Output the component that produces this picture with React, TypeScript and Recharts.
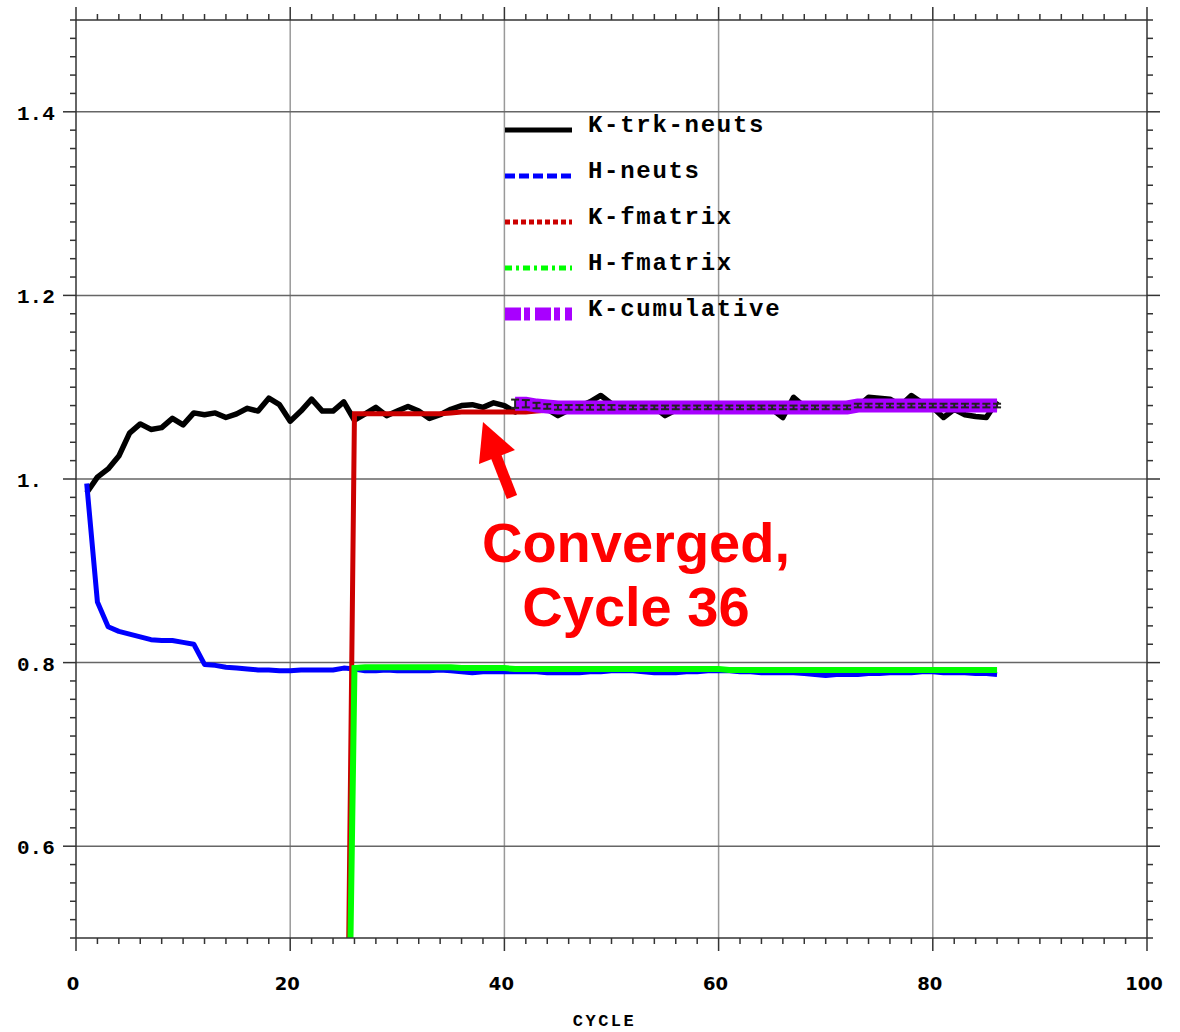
import React from 'react';
import {
    LineChart,
    Line,
    XAxis,
    YAxis,
    CartesianGrid,
    ReferenceDot,
    Legend,
    ErrorBar,
} from 'recharts';

// cycle numbers (x)
const cycles = [
    1, 2, 3, 4, 5, 6, 7, 8, 9, 10,
    11, 12, 13, 14, 15, 16, 17, 18, 19, 20,
    21, 22, 23, 24, 25, 26, 27, 28, 29, 30,
    31, 32, 33, 34, 35, 36, 37, 38, 39, 40,
    41, 42, 43, 44, 45, 46, 47, 48, 49, 50,
    51, 52, 53, 54, 55, 56, 57, 58, 59, 60,
    61, 62, 63, 64, 65, 66, 67, 68, 69, 70,
    71, 72, 73, 74, 75, 76, 77, 78, 79, 80,
    81, 82, 83, 84, 85, 86,
];

const kTrkNeuts = [
    0.985, 1.002, 1.011, 1.025, 1.050, 1.060, 1.054, 1.056, 1.066, 1.059,
    1.072, 1.070, 1.072, 1.067, 1.071, 1.077, 1.074, 1.088, 1.081, 1.063,
    1.074, 1.087, 1.074, 1.074, 1.084, 1.064, 1.071, 1.078, 1.069, 1.074,
    1.079, 1.074, 1.066, 1.070, 1.076, 1.080, 1.081, 1.078, 1.083, 1.080,
    1.073, 1.078, 1.080, 1.076, 1.069, 1.075, 1.079, 1.084, 1.091, 1.082,
    1.077, 1.079, 1.076, 1.078, 1.069, 1.075, 1.080, 1.077, 1.079, 1.076,
    1.079, 1.077, 1.080, 1.078, 1.076, 1.067, 1.089, 1.079, 1.076, 1.078,
    1.080, 1.077, 1.079, 1.089, 1.088, 1.087, 1.080, 1.091, 1.083, 1.078,
    1.067, 1.076, 1.070, 1.068, 1.067, 1.085,
];

const hNeuts = [
    0.995, 0.866, 0.839, 0.834, 0.831, 0.828, 0.825, 0.824, 0.824, 0.822,
    0.820, 0.798, 0.797, 0.795, 0.794, 0.793, 0.792, 0.792, 0.791, 0.791,
    0.792, 0.792, 0.792, 0.792, 0.794, 0.793, 0.791, 0.791, 0.792, 0.791,
    0.791, 0.791, 0.791, 0.792, 0.791, 0.790, 0.789, 0.790, 0.790, 0.790,
    0.790, 0.790, 0.790, 0.789, 0.789, 0.789, 0.789, 0.790, 0.790, 0.791,
    0.791, 0.791, 0.790, 0.789, 0.789, 0.789, 0.790, 0.790, 0.791, 0.791,
    0.791, 0.790, 0.790, 0.789, 0.789, 0.789, 0.789, 0.788, 0.787, 0.786,
    0.787, 0.787, 0.787, 0.788, 0.788, 0.789, 0.789, 0.789, 0.790, 0.790,
    0.789, 0.789, 0.789, 0.788, 0.788, 0.787,
];

// fission-matrix estimates start once the source has settled
const kFmatrix = [
    null, null, null, null, null, null, null, null, null, null,
    null, null, null, null, null, null, null, null, null, null,
    null, null, null, null, 0, 1.071, 1.071, 1.071, 1.071, 1.071,
    1.071, 1.071, 1.071, 1.071, 1.072, 1.073, 1.073, 1.073, 1.073, 1.073,
    1.073, 1.073, 1.074, 1.075, 1.076, 1.077, 1.077, 1.077, 1.077, 1.077,
    1.077, 1.077, 1.077, 1.077, 1.077, 1.077, 1.077, 1.077, 1.077, 1.077,
    1.077, 1.077, 1.077, 1.077, 1.077, 1.077, 1.077, 1.077, 1.077, 1.077,
    1.077, 1.077, 1.077, 1.077, 1.077, 1.077, 1.077, 1.077, 1.077, 1.077,
    1.077, 1.077, 1.077, 1.077, 1.077, 1.077,
];

const hFmatrix = [
    null, null, null, null, null, null, null, null, null, null,
    null, null, null, null, null, null, null, null, null, null,
    null, null, null, null, 0, 0.794, 0.795, 0.795, 0.795, 0.795,
    0.795, 0.795, 0.795, 0.795, 0.795, 0.794, 0.794, 0.794, 0.794, 0.794,
    0.793, 0.793, 0.793, 0.793, 0.793, 0.793, 0.793, 0.793, 0.793, 0.793,
    0.793, 0.793, 0.793, 0.793, 0.793, 0.793, 0.793, 0.793, 0.793, 0.793,
    0.792, 0.792, 0.792, 0.792, 0.792, 0.792, 0.792, 0.792, 0.792, 0.792,
    0.792, 0.792, 0.792, 0.792, 0.792, 0.792, 0.792, 0.792, 0.792, 0.792,
    0.792, 0.792, 0.792, 0.792, 0.792, 0.792,
];

const kCumulative = [
    null, null, null, null, null, null, null, null, null, null,
    null, null, null, null, null, null, null, null, null, null,
    null, null, null, null, null, null, null, null, null, null,
    null, null, null, null, null, null, null, null, null, null,
    1.082, 1.082, 1.080, 1.079, 1.078, 1.078, 1.078, 1.078, 1.078, 1.078,
    1.078, 1.078, 1.078, 1.078, 1.078, 1.078, 1.078, 1.078, 1.078, 1.078,
    1.078, 1.078, 1.078, 1.078, 1.078, 1.078, 1.078, 1.078, 1.078, 1.078,
    1.078, 1.078, 1.080, 1.080, 1.080, 1.080, 1.080, 1.080, 1.080, 1.080,
    1.080, 1.080, 1.080, 1.080, 1.080, 1.080,
];

const kCumulativeErr = [
    null, null, null, null, null, null, null, null, null, null,
    null, null, null, null, null, null, null, null, null, null,
    null, null, null, null, null, null, null, null, null, null,
    null, null, null, null, null, null, null, null, null, null,
    0.0045, 0.004, 0.003, 0.0025, 0.0025, 0.0025, 0.0025, 0.0025, 0.0025, 0.0025,
    0.002, 0.002, 0.002, 0.002, 0.002, 0.002, 0.002, 0.002, 0.002, 0.002,
    0.002, 0.002, 0.002, 0.002, 0.002, 0.002, 0.002, 0.002, 0.002, 0.002,
    0.002, 0.002, 0.002, 0.002, 0.002, 0.002, 0.002, 0.002, 0.002, 0.002,
    0.002, 0.002, 0.002, 0.002, 0.002, 0.002,
];

const xMajorTicks = [0, 20, 40, 60, 80, 100];
const xTickLabels = ['0', '20', '40', '60', '80', '100'];
const yMajorTicks = [0.6, 0.8, 1.0, 1.2, 1.4];
const yTickLabels = ['0.6', '0.8', '1.', '1.2', '1.4'];

const data = cycles.map((cycle, i) => ({
    cycle,
    kTrk: kTrkNeuts[i],
    hNeuts: hNeuts[i],
    kFm: kFmatrix[i],
    hFm: hFmatrix[i],
    kCum: kCumulative[i],
    kCumErr: kCumulativeErr[i],
}));

// minor ticks every 2 cycles and every 0.02 in k
const xTicks: number[] = [];
for (let i = 0; i <= 50; i++) xTicks.push(i * 2);
const yTicks: number[] = [];
for (let i = 0; i <= 50; i++) yTicks.push(Math.round((0.5 + i * 0.02) * 100) / 100);

// legend order and sample styles keyed by dataKey
const legendOrder = ['kTrk', 'hNeuts', 'kFm', 'hFm', 'kCum'];
const legendStyle: Record<string, { width: number; dash?: string }> = {
    kTrk: { width: 5 },
    hNeuts: { width: 5, dash: '10 4' },
    kFm: { width: 5, dash: '5 3' },
    hFm: { width: 5, dash: '7 4 3 4' },
    kCum: { width: 13, dash: '16 3 6 5' },
};

const AXIS = '#333';
const MONO = '"Liberation Mono", "Courier New", monospace';

const LeftTick = ({ x, y, payload }: any) => {
    const idx = yMajorTicks.indexOf(payload.value);
    const len = idx >= 0 ? 13 : 6;
    return (
        <g>
            <line x1={x - len} x2={x} y1={y} y2={y} stroke={AXIS} strokeWidth={1.5} />
            {idx >= 0 && (
                <text x={x - 59} y={y + 8} fontFamily={MONO} fontWeight="bold" fontSize={21} fill="#000">
                    {yTickLabels[idx]}
                </text>
            )}
        </g>
    );
};

const RightTick = ({ x, y, payload }: any) => {
    const len = yMajorTicks.indexOf(payload.value) >= 0 ? 13 : 6;
    return <line x1={x} x2={x + len} y1={y} y2={y} stroke={AXIS} strokeWidth={1.5} />;
};

const BottomTick = ({ x, y, payload }: any) => {
    const idx = xMajorTicks.indexOf(payload.value);
    const len = idx >= 0 ? 13 : 6;
    return (
        <g>
            <line x1={x} x2={x} y1={y} y2={y + len} stroke={AXIS} strokeWidth={1.5} />
            {idx >= 0 && (
                <text x={x - 3} y={y + 52} textAnchor="middle" fontFamily='"DejaVu Sans", sans-serif' fontWeight="bold" fontSize={18} fill="#000">
                    {xTickLabels[idx]}
                </text>
            )}
        </g>
    );
};

const TopTick = ({ x, y, payload }: any) => {
    const len = xMajorTicks.indexOf(payload.value) >= 0 ? 13 : 6;
    return <line x1={x} x2={x} y1={y - len} y2={y} stroke={AXIS} strokeWidth={1.5} />;
};

const renderLegend = ({ payload }: any) => {
    const items = legendOrder
        .map((key) => (payload || []).find((p: any) => p.dataKey === key))
        .filter(Boolean);
    return (
        <svg width={300} height={220}>
            {items.map((entry: any, i: number) => {
                const st = legendStyle[entry.dataKey];
                const ly = 20 + i * 46;
                return (
                    <g key={entry.value}>
                        <line x1={0} x2={67} y1={ly} y2={ly} stroke={entry.color} strokeWidth={st.width} strokeDasharray={st.dash} />
                        <text x={83} y={ly + 2} fontFamily={MONO} fontWeight="bold" fontSize={24} letterSpacing={1.7} fill="#000">
                            {entry.value}
                        </text>
                    </g>
                );
            })}
        </svg>
    );
};

// arrow + note pointing at the fission-matrix plateau
const ConvergedNote = ({ cx, cy }: any) => (
    <g>
        <line x1={cx + 13} y1={cy + 34} x2={cx + 29} y2={cy + 75} stroke="#ff0000" strokeWidth={11} />
        <polygon points={`${cx},${cy} ${cx + 32},${cy + 28} ${cx - 4},${cy + 42}`} fill="#ff0000" />
        <text x={cx + 153} y={cy + 140} textAnchor="middle" fontFamily='"Liberation Sans", Arial, sans-serif' fontWeight="bold" fontSize={56} fill="#ff0000">
            Converged,
        </text>
        <text x={cx + 153} y={cy + 204} textAnchor="middle" fontFamily='"Liberation Sans", Arial, sans-serif' fontWeight="bold" fontSize={56} fill="#ff0000">
            Cycle 36
        </text>
    </g>
);

const CycleTitle = ({ viewBox }: any) => (
    <text
        x={viewBox.x + viewBox.width / 2 - 7}
        y={viewBox.y + viewBox.height - 6}
        textAnchor="middle"
        fontFamily={MONO}
        fontWeight="bold"
        fontSize={17}
        letterSpacing={2.5}
        fill="#000"
    >
        CYCLE
    </text>
);

const App: React.FC = () => {
    return (
        <div style={{ position: 'absolute', left: 0, top: 0, background: '#fff' }}>
            <LineChart width={1180} height={1032} data={data} margin={{ top: 0, right: 0, left: 0, bottom: 0 }}>
                <CartesianGrid horizontal={false} verticalValues={[20, 40, 60, 80]} stroke="#999" strokeWidth={1.5} />
                <CartesianGrid vertical={false} horizontalValues={yMajorTicks} stroke="#666" strokeWidth={1.5} />
                <XAxis
                    dataKey="cycle"
                    type="number"
                    domain={[0, 100]}
                    ticks={xTicks}
                    interval={0}
                    height={94}
                    tickSize={0}
                    tickMargin={0}
                    tickLine={false}
                    tick={<BottomTick />}
                    axisLine={{ stroke: AXIS, strokeWidth: 1.5 }}
                    allowDataOverflow
                    label={{ content: CycleTitle }}
                />
                <XAxis
                    xAxisId="top"
                    orientation="top"
                    dataKey="cycle"
                    type="number"
                    domain={[0, 100]}
                    ticks={xTicks}
                    interval={0}
                    height={20}
                    tickSize={0}
                    tickMargin={0}
                    tickLine={false}
                    tick={<TopTick />}
                    axisLine={{ stroke: AXIS, strokeWidth: 1.5 }}
                    allowDataOverflow
                />
                <YAxis
                    type="number"
                    domain={[0.5, 1.5]}
                    ticks={yTicks}
                    interval={0}
                    width={76}
                    tickSize={0}
                    tickMargin={0}
                    tickLine={false}
                    tick={<LeftTick />}
                    axisLine={{ stroke: AXIS, strokeWidth: 1.5 }}
                    allowDataOverflow
                />
                <YAxis
                    yAxisId="right"
                    orientation="right"
                    type="number"
                    domain={[0.5, 1.5]}
                    ticks={yTicks}
                    interval={0}
                    width={33}
                    tickSize={0}
                    tickMargin={0}
                    tickLine={false}
                    tick={<RightTick />}
                    axisLine={{ stroke: AXIS, strokeWidth: 1.5 }}
                    allowDataOverflow
                />
                <Legend
                    layout="vertical"
                    align="center"
                    verticalAlign="middle"
                    content={renderLegend}
                    wrapperStyle={{ left: 505, top: 110, width: 300, height: 220 }}
                />
                <Line name="K-trk-neuts" dataKey="kTrk" stroke="#000000" strokeWidth={5.5} strokeLinejoin="round" dot={false} activeDot={false} isAnimationActive={false} />
                <Line name="H-neuts" dataKey="hNeuts" stroke="#0000ff" strokeWidth={5} strokeLinejoin="round" dot={false} activeDot={false} isAnimationActive={false} />
                <Line name="K-fmatrix" dataKey="kFm" stroke="#cc0000" strokeWidth={5} dot={false} activeDot={false} isAnimationActive={false} />
                <Line name="H-fmatrix" dataKey="hFm" stroke="#00ff00" strokeWidth={6} dot={false} activeDot={false} isAnimationActive={false} />
                <Line name="K-cumulative" dataKey="kCum" stroke="#a800ff" strokeWidth={14} dot={false} activeDot={false} isAnimationActive={false} />
                {/* uncertainty bars on the cumulative estimate, drawn above the thick band */}
                <Line dataKey="kCum" stroke="none" strokeWidth={0} legendType="none" dot={false} activeDot={false} isAnimationActive={false}>
                    <ErrorBar dataKey="kCumErr" direction="y" width={4} strokeWidth={2} stroke="#222" isAnimationActive={false} />
                </Line>
                <ReferenceDot x={38} y={1.062} r={0} shape={ConvergedNote} />
            </LineChart>
        </div>
    );
};

export default App;
